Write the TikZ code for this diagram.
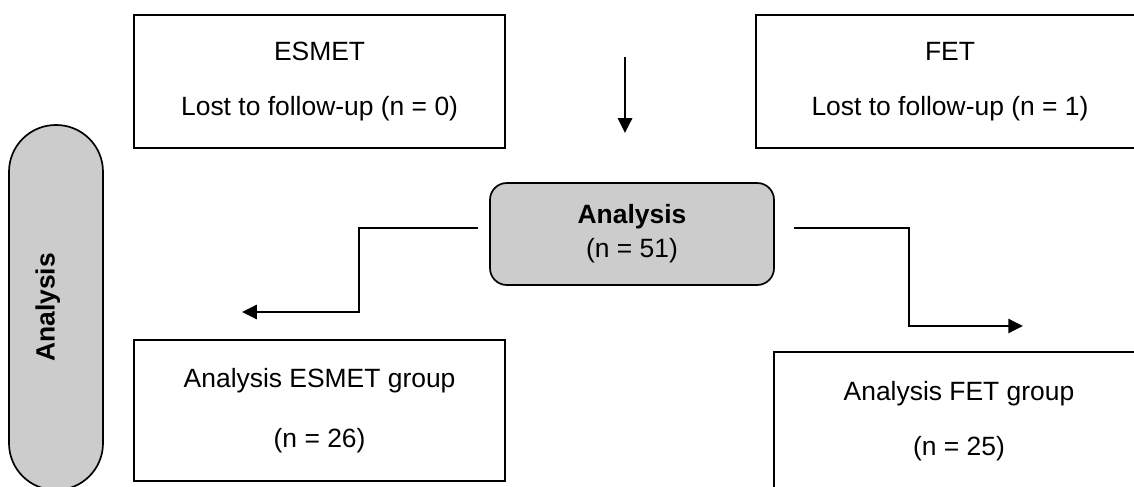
\documentclass[tikz,border=0pt]{standalone}
\usepackage{fontspec}
\setmainfont{Liberation Sans}
\usetikzlibrary{arrows.meta}
\definecolor{boxgrey}{RGB}{204,204,204}

\begin{document}
\begin{tikzpicture}[
    box/.style={draw, line width=1.2pt, align=center, font=\fontsize{18.8}{22.6}\selectfont},
    greybox/.style={box, fill=boxgrey},
    flow/.style={line width=1.8pt, -{Triangle[length=10.5pt, width=10pt]}}
]
    \useasboundingbox (0,0) rectangle (28.35,12.15);
    \clip (0,0) rectangle (28.35,12.15);
    % Top boxes, lost to follow-up.
        \node[box, minimum width=9.275cm, minimum height=3.325cm] (lostE) at (7.99,10.11) {ESMET\\[16pt]Lost to follow-up (n = 0)};
        \node[box, minimum width=9.7cm, minimum height=3.325cm] (lostF) at (23.75,10.11) {FET\\[16pt]Lost to follow-up (n = 1)};
    % Middle box and the side label.
        \node[greybox, rounded corners=0.42cm, minimum width=7.1cm, minimum height=2.55cm] (anl) at (15.8,6.3) {\textbf{Analysis}\\[1.5pt](n = 51)};
        \node[greybox, rounded corners=1.17cm, rotate=90, minimum width=9.125cm, minimum height=2.35cm, text depth=0.55cm, font=\fontsize{18.8}{22.6}\selectfont\bfseries] (side) at (1.4,4.4625) {Analysis};
    % Group boxes.
        \node[box, minimum width=9.275cm, minimum height=3.525cm] (grpE) at (7.99,1.8875) {Analysis ESMET group\\[20pt](n = 26)};
        \node[box, minimum width=9.25cm, minimum height=3.45cm] (grpF) at (23.975,1.625) {Analysis FET group\\[17pt](n = 25)};
    % Arrows.
        \coordinate (dtop) at (15.625,10.725);
        \coordinate (dtip) at (15.625,8.825);
        \draw[flow] (dtop) -- (dtip);
        \coordinate (lknee) at (8.975,4.35);
        \coordinate (ltip) at (6.05,4.35);
        \draw[flow] ([shift={(-0.275,0.15)}]anl.west) -| (lknee) -- (ltip);
        \coordinate (rknee) at (22.725,4.0);
        \coordinate (rtip) at (25.575,4.0);
        \draw[flow] ([shift={(0.475,0.15)}]anl.east) -| (rknee) -- (rtip);
\end{tikzpicture}
\end{document}
